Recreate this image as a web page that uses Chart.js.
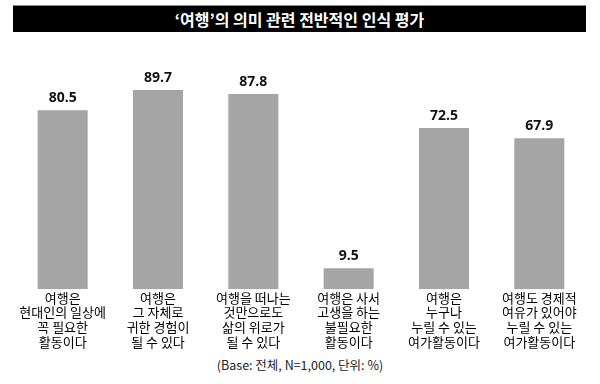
<!DOCTYPE html>
<html>
<head>
<meta charset="utf-8">
<script src="https://cdn.jsdelivr.net/npm/chart.js@4/dist/chart.umd.min.js"></script>
<style>
  html, body { margin:0; padding:0; background:#fff; }
  #wrap { position:relative; width:600px; height:384px; overflow:hidden; background:#fff; }
  #title { position:absolute; left:13px; top:5px; width:573px; height:27px; background:#000; border-top:1px solid #888; box-sizing:border-box;
           color:#fff; font-family:"Noto Sans CJK KR","Noto Sans",sans-serif; font-size:16px; font-weight:bold; text-align:center; line-height:26px; }
  #chartbox { position:absolute; left:0; top:0; width:600px; height:350px; }
  #foot { position:absolute; left:0; top:357px; width:600px; text-align:center; color:#222;
          font-family:"Noto Sans CJK KR","Noto Sans",sans-serif; font-size:12.5px; line-height:16px; }
</style>
</head>
<body>
<div id="wrap">
  <div id="chartbox"><canvas id="c"></canvas></div>
  <div id="title">‘여행’의 의미 관련 전반적인 인식 평가</div>
  <div id="foot">(Base: 전체, N=1,000, 단위: %)</div>
</div>
<script>
const categories = [
  ["여행은", "현대인의 일상에", "꼭 필요한", "활동이다"],
  ["여행은", "그 자체로", "귀한 경험이", "될 수 있다"],
  ["여행을 떠나는", "것만으로도", "삶의 위로가", "될 수 있다"],
  ["여행은 사서", "고생을 하는", "불필요한", "활동이다"],
  ["여행은", "누구나", "누릴 수 있는", "여가활동이다"],
  ["여행도 경제적", "여유가 있어야", "누릴 수 있는", "여가활동이다"]
];
const values = [80.5, 89.7, 87.8, 9.5, 72.5, 67.9];
const valueLabels = ["80.5", "89.7", "87.8", "9.5", "72.5", "67.9"];

const valuePlugin = {
  id: 'valueLabels',
  afterDatasetsDraw(chart) {
    const ctx = chart.ctx;
    const meta = chart.getDatasetMeta(0);
    ctx.save();
    ctx.fillStyle = '#111';
    ctx.font = 'bold 14px "Open Sans", "Noto Sans", sans-serif';
    ctx.textAlign = 'center';
    ctx.textBaseline = 'bottom';
    meta.data.forEach((bar, i) => {
      ctx.fillText(valueLabels[i], bar.x, bar.y - 5);
    });
    ctx.restore();
  }
};

new Chart(document.getElementById('c'), {
  type: 'bar',
  data: {
    labels: categories,
    datasets: [{
      data: values,
      backgroundColor: '#a5a5a5',
      borderWidth: 0,
      barPercentage: 0.525,
      categoryPercentage: 1.0
    }]
  },
  options: {
    responsive: true,
    maintainAspectRatio: false,
    animation: false,
    layout: { padding: { left: 15, right: 13, top: 67, bottom: 0 } },
    plugins: { legend: { display: false }, tooltip: { enabled: false }, title: { display: false } },
    scales: {
      x: {
        grid: { display: false, drawTicks: false },
        border: { display: false },
        ticks: {
          color: '#000',
          padding: 1,
          maxRotation: 0,
          autoSkip: false,
          font: { family: '"Noto Sans CJK KR", "Noto Sans", sans-serif', size: 13, lineHeight: 1.13 }
        }
      },
      y: {
        display: false,
        min: 0,
        max: 100
      }
    }
  },
  plugins: [valuePlugin]
});
</script>
</body>
</html>
